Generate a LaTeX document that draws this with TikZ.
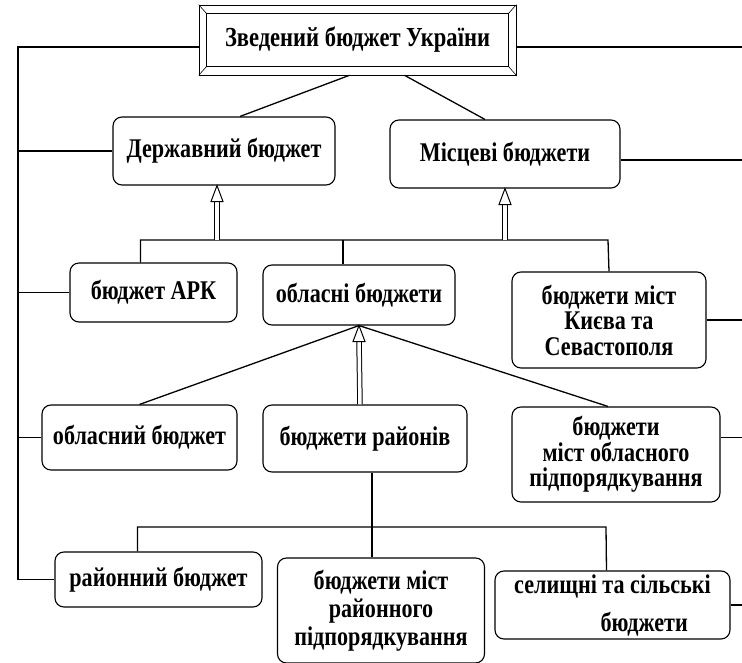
\documentclass[tikz,border=0pt]{standalone}
\usepackage{fontspec}
\setmainfont{Liberation Serif}[FakeStretch=0.82]
\usetikzlibrary{arrows.meta}

\begin{document}
\begin{tikzpicture}[x=1pt, y=-1pt, line width=1.1pt,
  box/.style={rectangle, rounded corners=9pt, draw, align=center, inner sep=0pt,
    font=\bfseries\fontsize{27}{25.5}\selectfont},
  link/.style={line width=1.3pt},
  shaft/.style={double, double distance=3.5pt, line width=1pt},
  head/.style={line width=1pt, fill=white}]
  \useasboundingbox (0,0) rectangle (742,663);
  % Nodes
  \node (zb) [rectangle, draw, line width=0.6pt, minimum width=317pt, minimum height=70pt,
    font=\bfseries\fontsize{27.5}{30}\selectfont] at (357.5,40) {Зведений бюджет України};
  \node (db) [box, minimum width=222pt, minimum height=68pt] at (224,151) {Державний бюджет};
  \node (mb) [box, minimum width=230pt, minimum height=68pt] at (505,154) {Місцеві бюджети};
  \node (ark) [box, minimum width=167pt, minimum height=59pt] at (153.5,292.5) {бюджет АРК};
  \node (ob) [box, minimum width=192pt, minimum height=60pt] at (359,295) {обласні бюджети};
  \node (ks) [box, minimum width=194pt, minimum height=96pt] at (609,320) {бюджети міст\\Києва та\\Севастополя};
  \node (obl) [box, minimum width=195pt, minimum height=65pt] at (139.5,437.5) {обласний бюджет};
  \node (rn) [box, minimum width=204pt, minimum height=67pt] at (365,438.5) {бюджети районів};
  \node (mo) [box, minimum width=208pt, minimum height=95pt] at (616,454.5) {бюджети\\міст обласного\\підпорядкування};
  \node (rb) [box, minimum width=207pt, minimum height=55pt] at (158.5,579.5) {районний бюджет};
  \node (mr) [box, minimum width=207pt, minimum height=105pt, font=\bfseries\fontsize{27}{28}\selectfont]
    at (381,610.5) {бюджети міст\\районного\hspace*{0.8em}\\підпорядкування};
  \node (sel) [box, minimum width=235pt, minimum height=68pt, align=left, font=\bfseries\fontsize{27}{38}\selectfont]
    at (612.5,605) {селищні та сільські\\\hspace*{3.2em}бюджети};
  % Bevel of the top box
  \draw[line width=0.6pt] ([xshift=8pt,yshift=-9pt]zb.north west) rectangle ([xshift=-8pt,yshift=9pt]zb.south east);
  \draw[line width=0.6pt] (zb.north west) -- ([xshift=8pt,yshift=-9pt]zb.north west);
  \draw[line width=0.6pt] (zb.south west) -- ([xshift=8pt,yshift=9pt]zb.south west);
  \draw[line width=0.6pt] (zb.north east) -- ([xshift=-8pt,yshift=-9pt]zb.north east);
  \draw[line width=0.6pt] (zb.south east) -- ([xshift=-8pt,yshift=9pt]zb.south east);
  % Coordinates
  \coordinate (l0) at (18,47);
  \coordinate (r0) at (742,0);
  \coordinate (b1) at (608,240);
  \coordinate (b2) at (606,527);
  % Lines
  \draw[link] ([yshift=-7pt]zb.west) -- (l0) |- (rb.west);
  \draw[link] (db.west) -- (db.west -| l0);
  \draw[link] (ark.west) -- (ark.west -| l0);
  \draw[link] (obl.west) -- (obl.west -| l0);
  \draw[link] ([yshift=-7pt]zb.east) -- ([yshift=-7pt]zb.east -| r0);
  \draw[link] ([yshift=-6pt]mb.east) -- ([yshift=-6pt]mb.east -| r0);
  \draw[link] (ks.east) -- (ks.east -| r0);
  \draw[link] ([yshift=17pt]mo.east) -- ([yshift=17pt]mo.east -| r0);
  \draw[link] (sel.east) -- (sel.east -| r0);
  \draw[link] ([xshift=-8pt]zb.south) -- ([xshift=16pt]db.north);
  \draw[link] ([xshift=47pt]zb.south) -- ([xshift=-20pt]mb.north);
  \draw[link] ([xshift=-13pt]ark.north) |- (b1) -- (ks.north);
  \draw[link] ([xshift=-16pt]ob.north) -- ([xshift=-16pt]ob.north |- b1);
  \draw[link] (ob.south) -- (obl.north);
  \draw[link] (ob.south) -- ([xshift=-8pt]mo.north);
  \draw[link] ([xshift=-21pt]rb.north) |- (b2) -- ([xshift=-6pt]sel.north);
  \draw[link] ([xshift=7pt]rn.south) -- ([xshift=7pt]rn.south |- mr.north);
  % Arrows
  \draw[shaft] ([xshift=-7pt]db.south |- b1) -- ([xshift=-7pt,yshift=-15pt]db.south);
  \draw[head] ([xshift=-7pt]db.south) -- ++(-6,16) -- ++(12,0) -- cycle;
  \draw[shaft] (mb.south |- b1) -- ([yshift=-15pt]mb.south);
  \draw[head] (mb.south) -- ++(-6,16) -- ++(12,0) -- cycle;
  \draw[shaft] ([xshift=-5pt]rn.north) -- ([yshift=-15pt]ob.south);
  \draw[head] (ob.south) -- ++(-6,16) -- ++(12,0) -- cycle;
\end{tikzpicture}
\end{document}
